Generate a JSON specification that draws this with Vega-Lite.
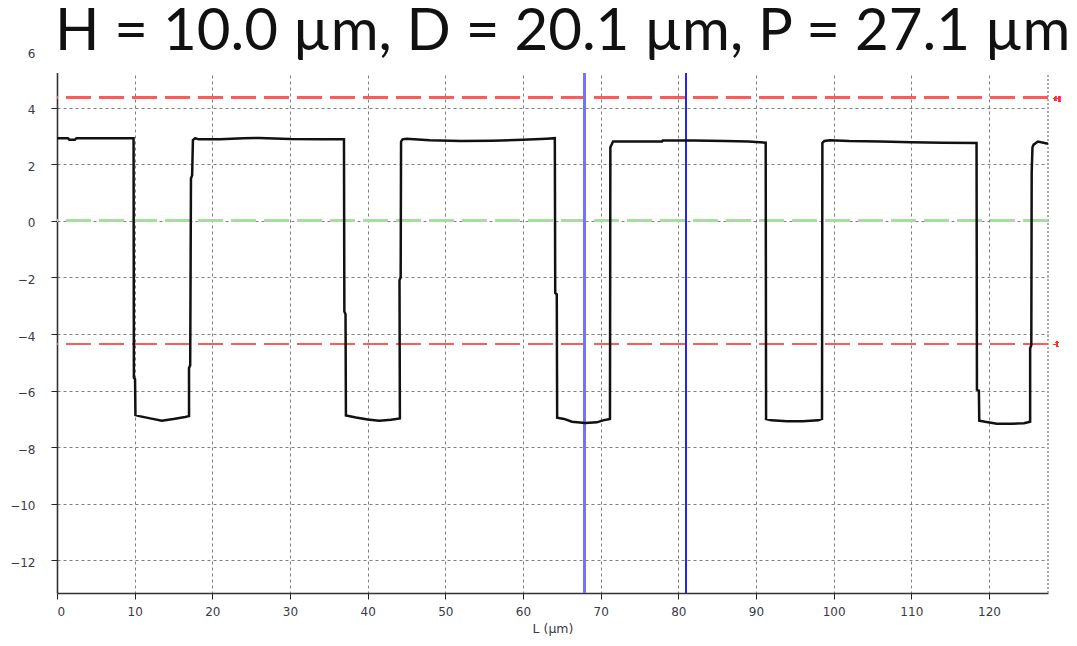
{
  "$schema": "https://vega.github.io/schema/vega-lite/v6.json",
  "width": 991,
  "height": 542,
  "autosize": "none",
  "padding": {"left": 57, "top": 51, "right": 29, "bottom": 53},
  "background": "white",
  "title": {
    "text": "H = 10.0 µm, D = 20.1 µm, P = 27.1 µm",
    "anchor": "start",
    "frame": "group",
    "font": "Lato",
    "fontSize": 58.2,
    "fontWeight": "normal",
    "color": "#111111",
    "baseline": "alphabetic",
    "offset": 0,
    "dy": 71,
    "dx": -2
  },
  "config": {
    "view": {"stroke": null},
    "axis": {
      "grid": true,
      "gridColor": "#808080",
      "gridDash": [3, 3],
      "gridWidth": 1,
      "domainColor": "#333333",
      "domainWidth": 1.6,
      "tickColor": "#222222",
      "tickSize": 6,
      "labelFont": "DejaVu Sans",
      "labelFontSize": 12,
      "labelColor": "#3a3a4a",
      "titleFont": "DejaVu Sans",
      "titleFontSize": 12.5,
      "titleFontWeight": "normal",
      "titleColor": "#3a3a4a"
    }
  },
  "data": {
    "values": [
      {"i": 1, "x": 0, "y": 2.92},
      {"i": 2, "x": 1.4, "y": 2.92},
      {"i": 3, "x": 1.6, "y": 2.86},
      {"i": 4, "x": 2.3, "y": 2.86},
      {"i": 5, "x": 2.5, "y": 2.92},
      {"i": 6, "x": 9.86, "y": 2.92},
      {"i": 7, "x": 9.9, "y": -5.55},
      {"i": 8, "x": 10.05, "y": -5.6},
      {"i": 9, "x": 10.1, "y": -6.86},
      {"i": 10, "x": 10.6, "y": -6.9},
      {"i": 11, "x": 12, "y": -6.98},
      {"i": 12, "x": 13.5, "y": -7.06},
      {"i": 13, "x": 15, "y": -7.0},
      {"i": 14, "x": 16.5, "y": -6.93},
      {"i": 15, "x": 17.0, "y": -6.9},
      {"i": 16, "x": 17.0, "y": -5.2},
      {"i": 17, "x": 17.15, "y": -5.1},
      {"i": 18, "x": 17.25, "y": 1.5},
      {"i": 19, "x": 17.4, "y": 1.6},
      {"i": 20, "x": 17.5, "y": 2.85},
      {"i": 21, "x": 17.8, "y": 2.92},
      {"i": 22, "x": 18.2, "y": 2.88},
      {"i": 23, "x": 21, "y": 2.88},
      {"i": 24, "x": 24, "y": 2.92},
      {"i": 25, "x": 26, "y": 2.93},
      {"i": 26, "x": 30, "y": 2.89},
      {"i": 27, "x": 34, "y": 2.88},
      {"i": 28, "x": 36.95, "y": 2.88},
      {"i": 29, "x": 37.0, "y": -3.2},
      {"i": 30, "x": 37.15, "y": -3.3},
      {"i": 31, "x": 37.2, "y": -6.88},
      {"i": 32, "x": 38.5, "y": -6.95},
      {"i": 33, "x": 40, "y": -7.02},
      {"i": 34, "x": 41.5, "y": -7.06},
      {"i": 35, "x": 43, "y": -7.03},
      {"i": 36, "x": 44.15, "y": -6.98},
      {"i": 37, "x": 44.1, "y": -2.1},
      {"i": 38, "x": 44.25, "y": -2.0},
      {"i": 39, "x": 44.3, "y": 2.8},
      {"i": 40, "x": 44.5, "y": 2.88},
      {"i": 41, "x": 45, "y": 2.9},
      {"i": 42, "x": 48, "y": 2.85},
      {"i": 43, "x": 52, "y": 2.82},
      {"i": 44, "x": 56, "y": 2.83},
      {"i": 45, "x": 60, "y": 2.86},
      {"i": 46, "x": 63, "y": 2.9},
      {"i": 47, "x": 64.1, "y": 2.92},
      {"i": 48, "x": 64.15, "y": -2.55},
      {"i": 49, "x": 64.35, "y": -2.6},
      {"i": 50, "x": 64.4, "y": -6.96},
      {"i": 51, "x": 65.3, "y": -7.0},
      {"i": 52, "x": 66.3, "y": -7.1},
      {"i": 53, "x": 68, "y": -7.14},
      {"i": 54, "x": 69.5, "y": -7.12},
      {"i": 55, "x": 70.3, "y": -7.05},
      {"i": 56, "x": 71.2, "y": -7.0},
      {"i": 57, "x": 71.25, "y": 2.6},
      {"i": 58, "x": 71.6, "y": 2.8},
      {"i": 59, "x": 75, "y": 2.8},
      {"i": 60, "x": 77.9, "y": 2.8},
      {"i": 61, "x": 78, "y": 2.84},
      {"i": 62, "x": 82, "y": 2.84},
      {"i": 63, "x": 86, "y": 2.82},
      {"i": 64, "x": 89, "y": 2.8},
      {"i": 65, "x": 91.25, "y": 2.76},
      {"i": 66, "x": 91.3, "y": -7.0},
      {"i": 67, "x": 92, "y": -7.05},
      {"i": 68, "x": 94, "y": -7.08},
      {"i": 69, "x": 96, "y": -7.08},
      {"i": 70, "x": 98, "y": -7.05},
      {"i": 71, "x": 98.5, "y": -7.0},
      {"i": 72, "x": 98.55, "y": 2.75},
      {"i": 73, "x": 98.8, "y": 2.82},
      {"i": 74, "x": 99.5, "y": 2.85},
      {"i": 75, "x": 102, "y": 2.82},
      {"i": 76, "x": 106, "y": 2.8},
      {"i": 77, "x": 110, "y": 2.78},
      {"i": 78, "x": 114, "y": 2.76},
      {"i": 79, "x": 118.4, "y": 2.75},
      {"i": 80, "x": 118.45, "y": -5.97},
      {"i": 81, "x": 118.7, "y": -6.0},
      {"i": 82, "x": 118.75, "y": -7.06},
      {"i": 83, "x": 119.5, "y": -7.1},
      {"i": 84, "x": 121, "y": -7.17},
      {"i": 85, "x": 123, "y": -7.17},
      {"i": 86, "x": 124.5, "y": -7.15},
      {"i": 87, "x": 125.3, "y": -7.1},
      {"i": 88, "x": 125.3, "y": -4.5},
      {"i": 89, "x": 125.45, "y": -4.4},
      {"i": 90, "x": 125.5, "y": 1.7},
      {"i": 91, "x": 125.6, "y": 2.6},
      {"i": 92, "x": 125.75, "y": 2.69},
      {"i": 93, "x": 126.3, "y": 2.8},
      {"i": 94, "x": 127.6, "y": 2.72}
    ]
  },
  "encoding": {
    "x": {
      "field": "x",
      "type": "quantitative",
      "scale": {"domain": [0, 127.6], "nice": false, "zero": false},
      "axis": {
        "values": [0, 10, 20, 30, 40, 50, 60, 70, 80, 90, 100, 110, 120],
        "title": "L (µm)",
        "labelPadding": 7,
        "titlePadding": 5
      }
    },
    "y": {
      "field": "y",
      "type": "quantitative",
      "scale": {"domain": [-13.15, 6], "nice": false, "zero": false},
      "axis": {
        "values": [-12, -10, -8, -6, -4, -2, 0, 2, 4, 6],
        "title": null,
        "labelPadding": 16,
        "labelOffset": 2
      }
    }
  },
  "layer": [
    {
      "mark": {"type": "rule", "color": "#a9a9a9", "strokeDash": [2, 2], "strokeWidth": 1.5},
      "encoding": {"x": {"datum": 127.6}, "y": null}
    },
    {
      "mark": {"type": "rule", "color": "#a8dca0", "strokeDash": [25, 8], "strokeWidth": 2.5},
      "encoding": {"y": {"datum": 0}, "x": null}
    },
    {
      "mark": {"type": "rule", "color": "#ff5a5a", "strokeDash": [25, 8], "strokeWidth": 2},
      "encoding": {"y": {"datum": 4.35}, "x": null}
    },
    {
      "mark": {"type": "rule", "color": "#ff5a5a", "strokeDash": [25, 8], "strokeWidth": 2},
      "encoding": {"y": {"datum": -4.35}, "x": null}
    },
    {
      "mark": {"type": "rule", "color": "#7373ff", "strokeWidth": 1.8},
      "encoding": {"x": {"datum": 67.9}, "y": null}
    },
    {
      "mark": {"type": "rule", "color": "#2424ff", "strokeWidth": 1.5},
      "encoding": {"x": {"datum": 81.0}, "y": null}
    },
    {
      "mark": {"type": "rect", "color": "white"},
      "encoding": {"x": {"datum": -1}, "x2": {"datum": 128.5}, "y": {"datum": 6.5}, "y2": {"datum": 5.23}}
    },
    {
      "mark": {"type": "line", "color": "#111111", "strokeWidth": 2.5, "strokeJoin": "miter"},
      "encoding": {"order": {"field": "i", "type": "quantitative"}}
    },
    {
      "mark": {"type": "text", "color": "#ff3030", "fontSize": 9, "align": "left", "baseline": "middle", "dx": 5, "font": "Liberation Sans", "text": "+t"},
      "encoding": {"x": {"datum": 127.6}, "y": {"datum": 4.3}}
    },
    {
      "mark": {"type": "text", "color": "#ff3030", "fontSize": 9, "align": "left", "baseline": "middle", "dx": 5, "font": "Liberation Sans", "text": "-t"},
      "encoding": {"x": {"datum": 127.6}, "y": {"datum": -4.35}}
    }
  ]
}
